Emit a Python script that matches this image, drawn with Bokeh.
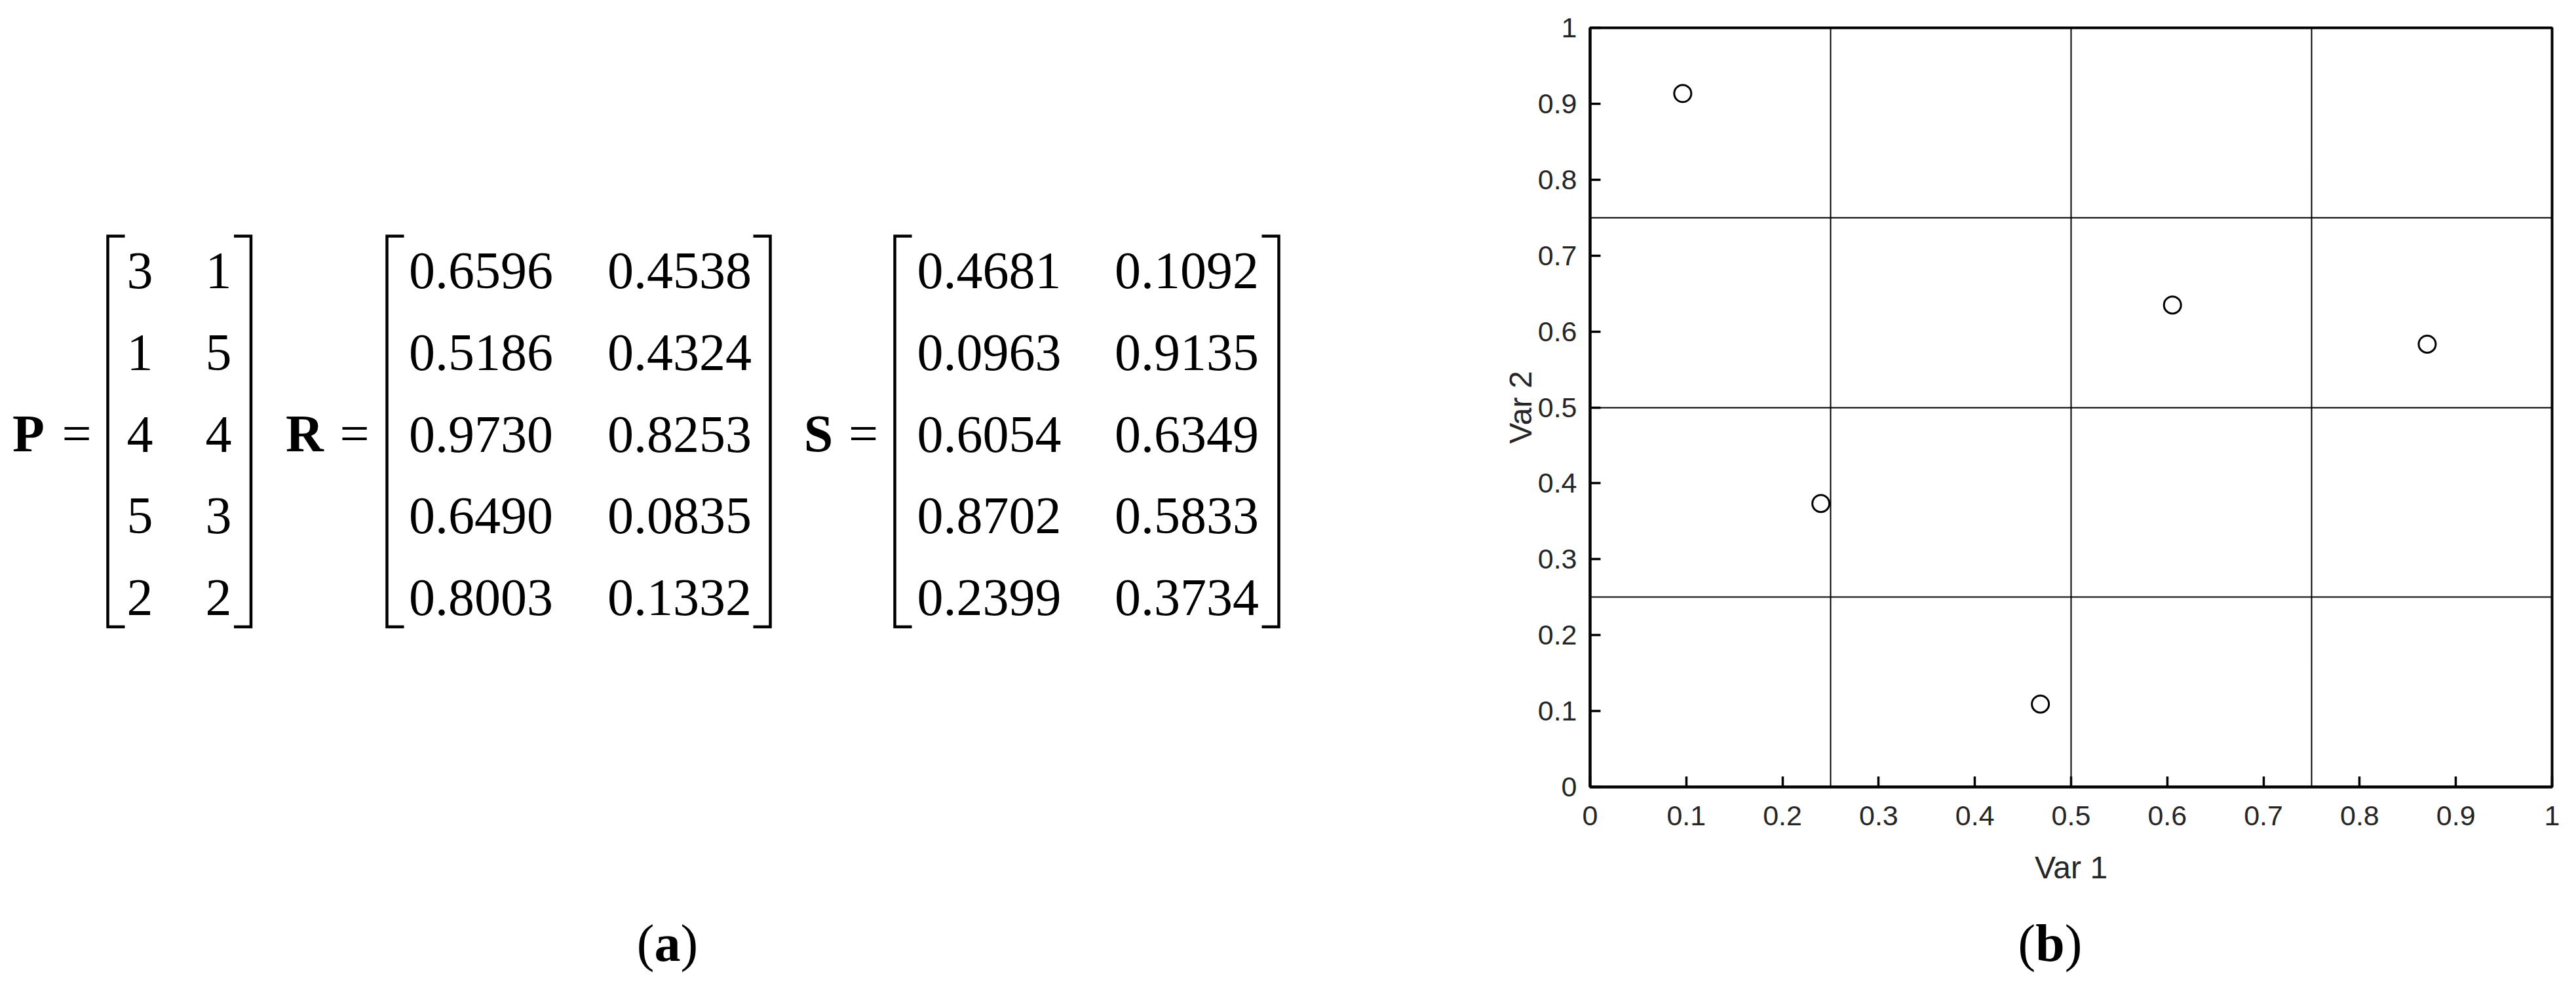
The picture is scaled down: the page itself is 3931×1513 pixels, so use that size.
from bokeh.plotting import figure
from bokeh.models import Range1d, FixedTicker, CustomJSTickFormatter, ColumnDataSource
from bokeh.layouts import row, column
from bokeh.core.properties import value
from bokeh.embed import file_html
from bokeh.resources import INLINE

# ---------------- DATA ----------------
P = [[3, 1], [1, 5], [4, 4], [5, 3], [2, 2]]
R = [[0.6596, 0.4538], [0.5186, 0.4324], [0.9730, 0.8253], [0.6490, 0.0835], [0.8003, 0.1332]]
S = [[0.4681, 0.1092], [0.0963, 0.9135], [0.6054, 0.6349], [0.8702, 0.5833], [0.2399, 0.3734]]
matrix_names = ["P", "R", "S"]
matrix_formats = ["{:d}", "{:.4f}", "{:.4f}"]
var1 = [r[0] for r in S]
var2 = [r[1] for r in S]
axis_ticks = [0, 0.1, 0.2, 0.3, 0.4, 0.5, 0.6, 0.7, 0.8, 0.9, 1]
grid_lines = [0.25, 0.5, 0.75]
x_label = "Var 1"
y_label = "Var 2"
panel_letters = ["a", "b"]

# ---------------- LAYOUT (reference pixel coordinates) ----------------
OFF = 8
PAGE_W, PAGE_H = 3915, 1497
LEFT_W = 2250
TOP_H = 1380                                   # height of the row with both panels
FL, FR, FT, FB = 2434, 3902, 50, 1209          # frame of panel (b)
SERIF = "Liberation Serif"
SANS = "'Liberation Sans Narrow', 'Liberation Sans', Arial, sans-serif"
FS = 80
BASE_FIX = 18                                  # baseline correction for serif texts
row_base0, row_step = 439 - BASE_FIX, 124.75
name_base = 687 - BASE_FIX
br_top, br_bot, serif_len = 368, 964.5, 26
mat_layout = [
    dict(name_x=51, eq_x=124.5, bl=172, br=390.5, cols=[221, 341]),
    dict(name_x=472.5, eq_x=548.5, bl=598, br=1183, cols=[741.5, 1044.5]),
    dict(name_x=1256.5, eq_x=1325, bl=1373, br=1959, cols=[1517, 1818.5]),
]
label_base = 1465 - BASE_FIX
label_centers = [1026, 3136]

border_top = FT - OFF
border_bottom = (OFF + TOP_H) - FB

# ---------------- LEFT PANEL: matrices ----------------
left = figure(width=LEFT_W, height=TOP_H, x_range=Range1d(OFF, OFF + LEFT_W),
              y_range=Range1d(FB, FT), toolbar_location=None,
              output_backend="svg", x_axis_location=None, y_axis_location=None)
left.min_border_left = 0
left.min_border_right = 0
left.min_border_top = border_top
left.min_border_bottom = border_bottom
left.grid.visible = False
left.outline_line_color = None
left.background_fill_color = "white"

ex, ey, et = [], [], []
nx, ny, nt = [], [], []
qx, qy = [], []
bxs, bys = [], []
for mat, name, fmt, lay in zip([P, R, S], matrix_names, matrix_formats, mat_layout):
    for i, r in enumerate(mat):
        for j, v in enumerate(r):
            ex.append(lay["cols"][j])
            ey.append(row_base0 + i * row_step)
            et.append(fmt.format(v))
    nx.append(lay["name_x"]); ny.append(name_base); nt.append(name)
    qx.append(lay["eq_x"]); qy.append(name_base)
    bl, br = lay["bl"], lay["br"]
    bxs.append([bl + serif_len, bl, bl, bl + serif_len]); bys.append([br_top, br_top, br_bot, br_bot])
    bxs.append([br - serif_len, br, br, br - serif_len]); bys.append([br_top, br_top, br_bot, br_bot])

left.text(x="x", y="y", text="t", source=ColumnDataSource(dict(x=ex, y=ey, t=et)),
          text_font=value(SERIF), text_font_size=f"{FS}px", text_align="center",
          text_baseline="alphabetic", text_color="black")
left.text(x="x", y="y", text="t", source=ColumnDataSource(dict(x=nx, y=ny, t=nt)),
          text_font=value(SERIF), text_font_size=f"{FS}px", text_font_style="bold",
          text_align="center", text_baseline="alphabetic", text_color="black")
left.text(x=qx, y=qy, text=["="] * len(qx), text_font=value(SERIF), text_font_size=f"{FS}px",
          text_align="center", text_baseline="alphabetic", text_color="black")
left.multi_line(xs=bxs, ys=bys, line_width=4.5, line_color="black", line_join="miter")

# ---------------- RIGHT PANEL: scatter ----------------
RW = PAGE_W - LEFT_W
right = figure(width=RW, height=TOP_H, x_range=Range1d(0, 1), y_range=Range1d(0, 1),
               toolbar_location=None, output_backend="svg")
right.min_border_left = FL - OFF - LEFT_W
right.min_border_right = (OFF + PAGE_W) - FR
right.min_border_top = border_top
right.min_border_bottom = border_bottom
right.outline_line_color = "black"
right.outline_line_width = 4
right.background_fill_color = "white"

fmt_js = CustomJSTickFormatter(code="return (Math.round(tick*10)/10).toString();")
for ax in (right.xaxis[0], right.yaxis[0]):
    ax.ticker = FixedTicker(ticks=axis_ticks)
    ax.formatter = fmt_js
    ax.major_tick_in = 16
    ax.major_tick_out = 0
    ax.minor_tick_line_color = None
    ax.major_tick_line_width = 3.5
    ax.major_tick_line_color = "black"
    ax.axis_line_width = 4
    ax.axis_line_color = "black"
    ax.major_label_text_font = SANS
    ax.major_label_text_font_size = "43px"
    ax.major_label_text_color = "#262626"
    ax.axis_label_text_font = SANS
    ax.axis_label_text_font_size = "48px"
    ax.axis_label_text_font_style = "normal"
    ax.axis_label_text_color = "#262626"
right.xaxis.major_label_standoff = 29
right.yaxis.major_label_standoff = 20
right.xaxis.axis_label = x_label
right.yaxis.axis_label = y_label
right.xaxis.axis_label_standoff = 35
right.yaxis.axis_label_standoff = -3

for g in (right.xgrid[0], right.ygrid[0]):
    g.ticker = FixedTicker(ticks=grid_lines)
    g.grid_line_color = "black"
    g.grid_line_width = 2
    g.grid_line_alpha = 1.0

right.scatter(x=var1, y=var2, marker="circle", size=26, fill_color=None,
              line_color="black", line_width=3)

# ---------------- BOTTOM STRIP: panel labels (a), (b) ----------------
BOT_H = PAGE_H - TOP_H
bottom = figure(width=PAGE_W, height=BOT_H, x_range=Range1d(OFF, FR),
                y_range=Range1d(OFF + PAGE_H, OFF + TOP_H), toolbar_location=None,
                output_backend="svg", x_axis_location=None, y_axis_location=None)
bottom.min_border_left = 0
bottom.min_border_right = (OFF + PAGE_W) - FR
bottom.min_border_top = 0
bottom.min_border_bottom = 0
bottom.grid.visible = False
bottom.outline_line_color = None

half_w = [0.25 * FS, 0.278 * FS]
bottom.text(x=[c - h for c, h in zip(label_centers, half_w)], y=[label_base] * 2, text=["("] * 2,
            text_font=value(SERIF), text_font_size=f"{FS}px", text_align="right",
            text_baseline="alphabetic", text_color="black")
bottom.text(x=label_centers, y=[label_base] * 2, text=panel_letters,
            text_font=value(SERIF), text_font_size=f"{FS}px", text_font_style="bold",
            text_align="center", text_baseline="alphabetic", text_color="black")
bottom.text(x=[c + h for c, h in zip(label_centers, half_w)], y=[label_base] * 2, text=[")"] * 2,
            text_font=value(SERIF), text_font_size=f"{FS}px", text_align="left",
            text_baseline="alphabetic", text_color="black")

layout = column(row(left, right), bottom)
open("out.html", "w").write(file_html(layout, INLINE))
